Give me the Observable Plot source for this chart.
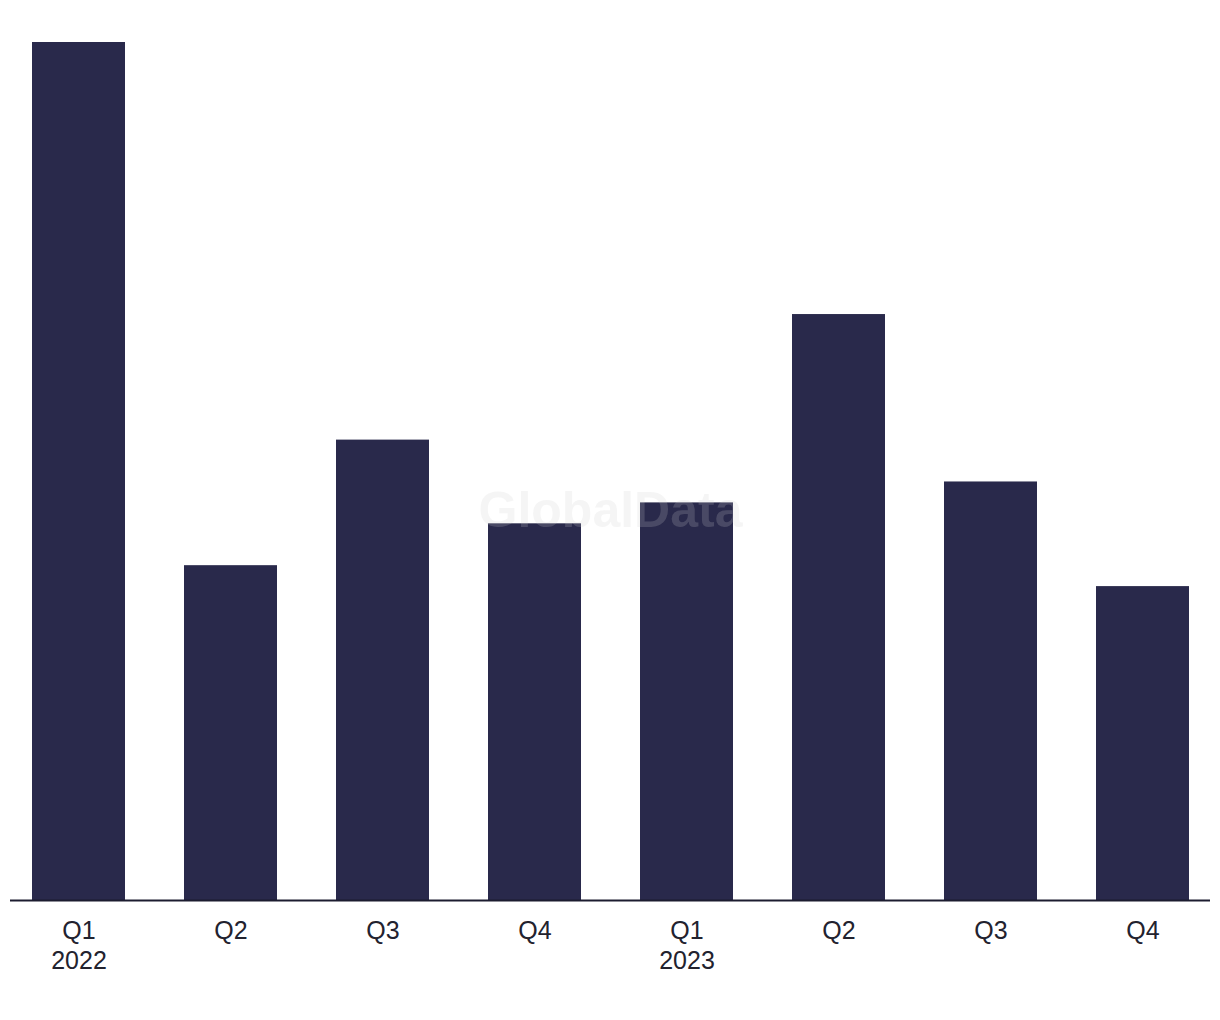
<!DOCTYPE html>
<html>
<head>
<meta charset="utf-8">
<script src="https://cdn.jsdelivr.net/npm/d3@7"></script>
<script src="https://cdn.jsdelivr.net/npm/@observablehq/plot@0.6"></script>
<style>
  html, body { margin: 0; padding: 0; background: #ffffff; }
  #chart svg { display: block; }
</style>
</head>
<body>
<div id="chart"></div>
<script>
const quarters = ["Q1", "Q2", "Q3", "Q4", "Q1", "Q2", "Q3", "Q4"];
const years = ["2022", "2022", "2022", "2022", "2023", "2023", "2023", "2023"];
const values = [41, 16, 22, 18, 19, 28, 20, 15];
const yearLabelShown = [true, false, false, false, true, false, false, false];

const data = quarters.map((q, i) => ({
  key: `${q} ${years[i]}`,
  label: yearLabelShown[i] ? `${q}\n${years[i]}` : q,
  value: values[i]
}));
const labelByKey = new Map(data.map(d => [d.key, d.label]));

const chart = Plot.plot({
  width: 1220,
  height: 1020,
  marginTop: 42,
  marginBottom: 120,
  marginLeft: 10,
  marginRight: 10,
  style: { fontFamily: "'Liberation Sans', Arial, sans-serif", background: "#ffffff" },
  x: { domain: data.map(d => d.key), paddingInner: 0.39, paddingOuter: 0.13, label: null },
  y: { domain: [0, 41], axis: null },
  marks: [
    Plot.barY(data, { x: "key", y: "value", fill: "#29294b" }),
    Plot.ruleY([0], { stroke: "#1c1c30", strokeWidth: 2 }),
    Plot.axisX({
      tickSize: 0,
      tickPadding: 17,
      fontSize: 25,
      lineHeight: 1.2,
      fill: "#22222e",
      tickFormat: k => labelByKey.get(k),
      label: null
    }),
    Plot.text(["GlobalData"], {
      frameAnchor: "middle",
      dy: 39,
      text: d => d,
      fontSize: 50,
      fontWeight: "bold",
      fill: "#cfcfcf",
      fillOpacity: 0.2
    })
  ]
});
document.getElementById("chart").appendChild(chart);
</script>
</body>
</html>
